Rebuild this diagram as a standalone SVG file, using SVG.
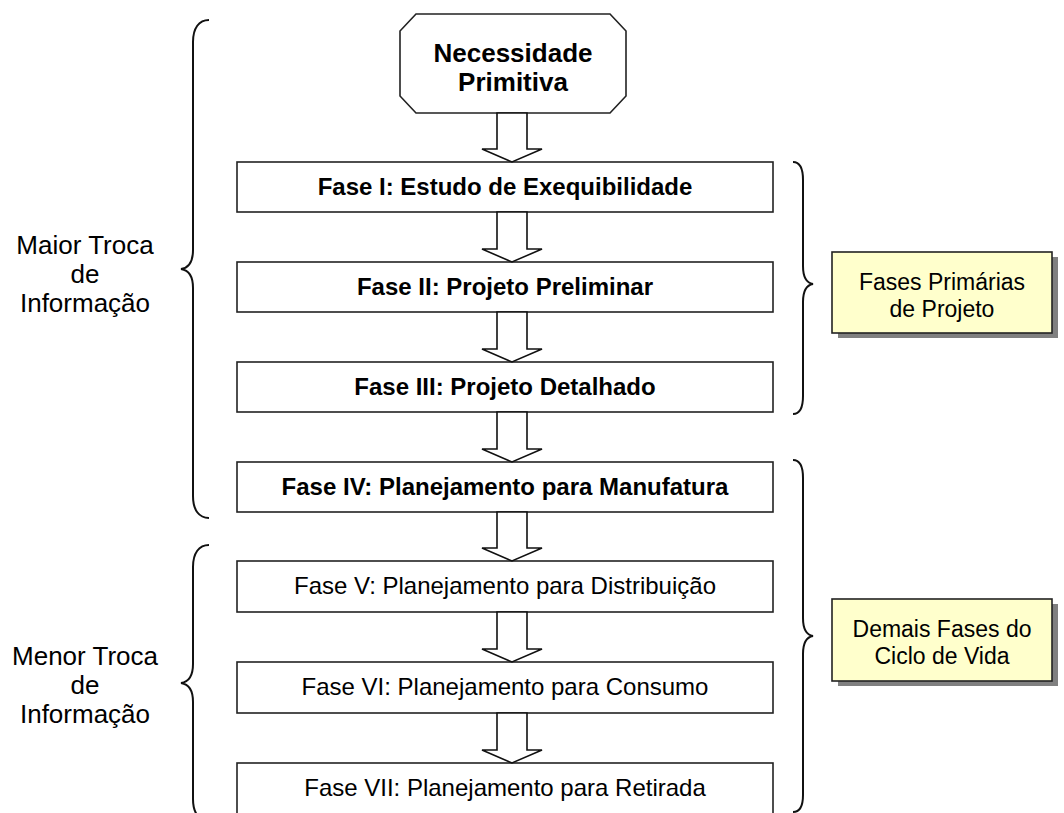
<svg xmlns="http://www.w3.org/2000/svg" width="1064" height="813" viewBox="0 0 1064 813">
  <style>
    .box { fill: #ffffff; stroke: #222222; stroke-width: 1.6; }
    .arrow { fill: #ffffff; stroke: #111111; stroke-width: 1.6; stroke-linejoin: miter; }
    .brace { fill: none; stroke: #111111; stroke-width: 2; }
    .note { fill: #ffffcc; stroke: #222222; stroke-width: 1.6; }
    .shadow { fill: #808080; }
    text { font-family: "Liberation Sans", Arial, sans-serif; fill: #000000; text-anchor: middle; }
    .b { font-weight: bold; font-size: 24px; }
    .r { font-size: 24px; }
    .side { font-size: 26px; }
    .nt { font-size: 23px; }
    .title { font-weight: bold; font-size: 26px; }
  </style>

  <!-- start node -->
  <g id="necessidade">
    <polygon class="box" points="416,14 610,14 626,31 626,96 610,113 416,113 400,96 400,31"/>
    <text class="title" x="513" y="62">Necessidade</text>
    <text class="title" x="513" y="91">Primitiva</text>
  </g>

  <!-- phase boxes -->
  <g id="fase1">
    <rect class="box" x="237" y="162" width="536" height="50"/>
    <text class="b" x="505" y="195">Fase I: Estudo de Exequibilidade</text>
  </g>
  <g id="fase2">
    <rect class="box" x="237" y="262" width="536" height="50"/>
    <text class="b" x="505" y="295">Fase II: Projeto Preliminar</text>
  </g>
  <g id="fase3">
    <rect class="box" x="237" y="362" width="536" height="50"/>
    <text class="b" x="505" y="395">Fase III: Projeto Detalhado</text>
  </g>
  <g id="fase4">
    <rect class="box" x="237" y="462" width="536" height="50"/>
    <text class="b" x="505" y="495">Fase IV: Planejamento para Manufatura</text>
  </g>
  <g id="fase5">
    <rect class="box" x="237" y="561" width="536" height="51"/>
    <text class="r" x="505" y="594">Fase V: Planejamento para Distribuição</text>
  </g>
  <g id="fase6">
    <rect class="box" x="237" y="662" width="536" height="51"/>
    <text class="r" x="505" y="695">Fase VI: Planejamento para Consumo</text>
  </g>
  <g id="fase7">
    <rect class="box" x="237" y="763" width="536" height="51"/>
    <text class="r" x="505" y="796">Fase VII: Planejamento para Retirada</text>
  </g>

  <!-- block arrows between stages -->
  <g id="connectors">
    <polygon class="arrow" points="497,113 527,113 527,149 542,149 512,162 482,149 497,149"/>
    <polygon class="arrow" points="497,212 527,212 527,249 542,249 512,262 482,249 497,249"/>
    <polygon class="arrow" points="497,312 527,312 527,349 542,349 512,362 482,349 497,349"/>
    <polygon class="arrow" points="497,412 527,412 527,449 542,449 512,462 482,449 497,449"/>
    <polygon class="arrow" points="497,512 527,512 527,548 542,548 512,561 482,548 497,548"/>
    <polygon class="arrow" points="497,612 527,612 527,649 542,649 512,662 482,649 497,649"/>
    <polygon class="arrow" points="497,713 527,713 527,750 542,750 512,763 482,750 497,750"/>
  </g>

  <!-- left braces and labels -->
  <g id="maior-troca">
    <path class="brace" d="M209,20 C199,20 193,28 193,42 L193,250 C193,262 188,268 181,269 C188,270 193,276 193,288 L193,496 C193,510 199,518 209,518"/>
    <text class="side" x="85" y="254">Maior Troca</text>
    <text class="side" x="85" y="283">de</text>
    <text class="side" x="85" y="312">Informação</text>
  </g>
  <g id="menor-troca">
    <path class="brace" d="M209,545 C199,545 193,553 193,567 L193,664 C193,676 188,682 181,683 C188,684 193,690 193,702 L193,799 C193,813 199,821 209,821"/>
    <text class="side" x="85" y="665">Menor Troca</text>
    <text class="side" x="85" y="694">de</text>
    <text class="side" x="85" y="723">Informação</text>
  </g>

  <!-- right braces and notes -->
  <g id="fases-primarias">
    <path class="brace" d="M793,162 C799,162 803,168 803,180 L803,266 C803,277 807,283 813,284 C807,285 803,291 803,302 L803,396 C803,408 799,414 793,414"/>
    <rect class="shadow" x="838" y="257" width="220" height="81"/>
    <rect class="note" x="832" y="252" width="220" height="81"/>
    <text class="nt" x="942" y="290">Fases Primárias</text>
    <text class="nt" x="942" y="317">de Projeto</text>
  </g>
  <g id="demais-fases">
    <path class="brace" d="M793,460 C799,460 803,466 803,478 L803,618 C803,630 807,635 813,636 C807,637 803,642 803,654 L803,795 C803,807 799,812 793,812"/>
    <rect class="shadow" x="838" y="604" width="220" height="82"/>
    <rect class="note" x="832" y="599" width="220" height="82"/>
    <text class="nt" x="942" y="637">Demais Fases do</text>
    <text class="nt" x="942" y="664">Ciclo de Vida</text>
  </g>
</svg>
